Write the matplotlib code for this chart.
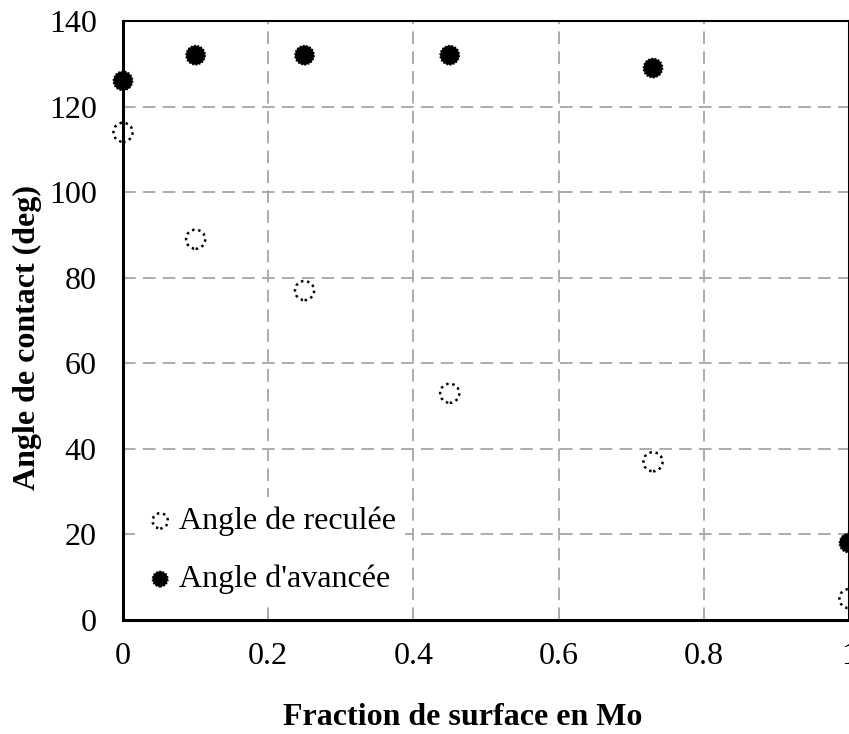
import matplotlib
matplotlib.use("Agg")
import matplotlib.pyplot as plt

# fraction de surface en Mo / angles de contact (deg)
fraction = [0.0, 0.10, 0.25, 0.45, 0.73, 1.0]
angle_reculee = [114, 89, 77, 53, 37, 5]
angle_avancee = [126, 132, 132, 132, 129, 18]

plt.rcParams["font.family"] = ["Liberation Serif", "DejaVu Serif"]

fig = plt.figure(figsize=(8.49, 7.34), dpi=100)
ax = fig.add_axes([0.1449, 0.1553, 0.8551, 0.8161])

ax.scatter(fraction, angle_reculee, s=190, facecolors="none", edgecolors="black",
           linewidths=1.8, linestyles=(0, (1, 1.5)), clip_on=False, zorder=3,
           label="Angle de reculée")
ax.scatter(fraction, angle_avancee, s=190, facecolors="black", edgecolors="black",
           linewidths=1.2, linestyles=(0, (1, 1)), clip_on=False, zorder=3,
           label="Angle d'avancée")

ax.set_xlim(0, 1)
ax.set_ylim(0, 140)
ax.set_xticks([0, 0.2, 0.4, 0.6, 0.8, 1])
ax.set_xticklabels(["0", "0.2", "0.4", "0.6", "0.8", "1"])
ax.set_yticks(range(0, 141, 20))
ax.tick_params(length=0, labelsize=23)
ax.tick_params(axis="x", pad=16)
ax.tick_params(axis="y", pad=19)
ax.grid(True, ls=(0, (7, 4)), lw=1.3, color="#a6a6a6")
ax.set_axisbelow(True)

for side in ("left", "bottom"):
    ax.spines[side].set_linewidth(2.2)
for side in ("top", "right"):
    ax.spines[side].set_linewidth(1.5)

ax.set_xlabel("Fraction de surface en Mo", fontsize=23, fontweight="bold")
ax.set_ylabel("Angle de contact (deg)", fontsize=23, fontweight="bold")
ax.xaxis.set_label_coords(0.468, -0.139)
ax.yaxis.set_label_coords(-0.112, 0.471)

leg = ax.legend(loc="lower left", bbox_to_anchor=(-0.006, 0.0), fontsize=23,
                frameon=True, framealpha=1, edgecolor="none", facecolor="white",
                handletextpad=0.08, labelspacing=0.9, borderpad=0.3,
                handlelength=1.0, markerscale=0.8)

fig.savefig("out.png", dpi=100)
